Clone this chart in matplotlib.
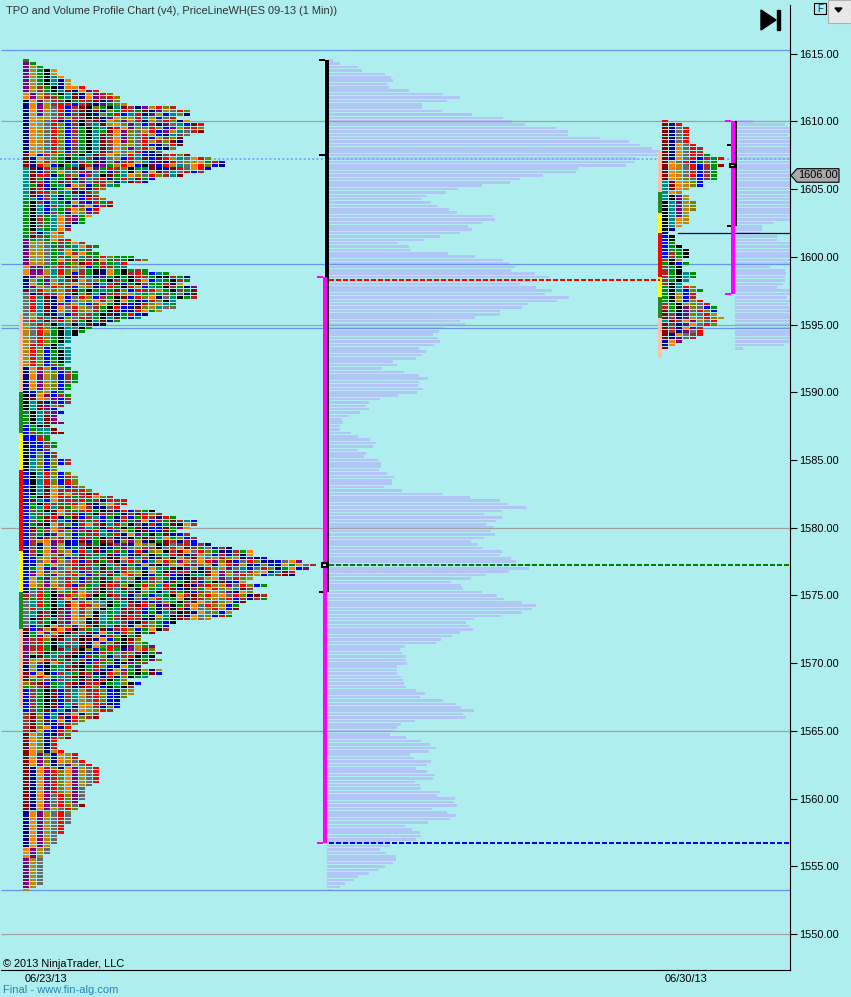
import numpy as np
import matplotlib
matplotlib.use('Agg')
import matplotlib.pyplot as plt

W, H = 851, 997
BG = '#AFEEEE'

# letter -> TPO colour
palette = {'p': '#800080', 'g': '#B8860B', 'G': '#008F00', 'k': '#000000', 'o': '#FF8000',
           't': '#008B8B', 'n': '#000080', 'r': '#FF0000', 'b': '#0000FF', 'B': '#A52A2A',
           'm': '#8B0000', 'y': '#696969', 'l': '#808000'}

# first profile, top row is 1614.50, one row per 0.25
left_top = 1614.5
left_counts = [1,2,3,5,5,6,7,7,9,11, 13,14,14,15,22,24,24,22,24,26, 26,26,24,23,23,23,22,20,24,27,
               29,29,27,26,23,19,18,14,12,11, 11,12,13,13,11,11,10,9,9,7, 7,6,6,7,
               9,11,10,11,16,18,15,15,18,21, 24,24,23,25,25,25,25,22,22,22, 20,18,17,14,12,10,9,8,7,7,
               6,7,7,7,7,7,6,7,8,8, 8,8,7,7,6,7,7,7,6,5, 6,5,5,6,4,5,6,4,4,5, 5,4,5,5,7,7,5,5,
               7,8,8,8,9,10,11,13,15,15, 14,19,20,22,25,25,24,22,24,25, 25,27,30,33,33,35,40,42,41,39,
               39,33,32,35,33,33,35,35,32,31, 31,30,30,27,22,21,21,19,17,17, 18,19,19,20,19,20,18,17,20,20,
               18,15,17,16,16,
               16,15,14,14,14,13,11,11,9,8, 7,8,7,7,5,5,5,6,8,8, 9,10,11,11,11,11,11,10,9,9,
               9,9,8,9,8,7,7,7,7,6, 6,6,5,5,5,4,4,4,3,3, 3,3,3,3,3,3,3,2,1]

# rows 0-53
colours_a = """
G pG pgG pgGko pgGko pgGkto pgGktno pgGktno pgBGknoor pgBGktmnopr
opgBGktmnoprl opgBBGtmnopBrl nopgBBkGrBmnpl nopgBBrbBmnpGlg nopgyrbBmklGktmBnpgrlB
nopgyrbBmkmnlGrBGmnpgyrl nopgyrbBmknlGrbtrnpgbtl noggyrlrBkmnpolgrtgbyrl nogyrnbBkBmnolpgBngyrl nogyrlbBkBtmgolpybrnpytbmrB
nogyrlbBGkGtmroplyrlbpgBrlmr nogyrlbBGktGmoplygrbpgtyBmr nogyrlbBGktmBoplyrgbntBymB nogyrlbBGktmBoplyrbgBlmrB nogyrlbBGktmBoplyrgBlmnrB
nogyrlbBGktmBolgyrbnyrmB nogyrlbBGktmBolpyrgbnlrB nogyrlbBGktmBoygrbnylrl mobrlGBGktmBolyrtbnkBrlmrlrb mnoylGkGtBnpygbrtmbmrgtyorlGrB
mngrlGkbBGmnypBrgtbmnrylgoGrbrB mnrgbkGtmBnpGgrobkmbrgtyorlbnrB tmnrlGBmnopGrBlkGtmnbmryorbrBm tmbrGotyrpyGbBtkgbomBtyrbB tmrBnGBlbBtkmGtolyrlB
tmGbtGmnBtBrnGr tmrbGmBtpyrBlb tGmbGtnolbGB tmrbnGopBnrl tmrBlGtmnBl tmbBtnGtbmB GtbBtnGpbrBl GkBbtGnopbrGr GktbBtGpBobrm
GktbtGBolbr GktbBGnolpB GkBGtoBpGo GkBGtoBpG GkBGtoBn GkBGtob GktGtoB GBntoB GmBGoo
pGyGoBr
"""
# rows 54-77
colours_b = """
pggyGBGoB pggyGBGtoBG pggyGBoGtB pggyGtoBoGG pggyGBGotBGrlGGG pggyGoBrGBmoGBGkBlG pggyGBGlmrGBGtr oppGyrBlgbGrBGt
oppgtrlgBGknoGkGBG oppgtrlbBGknoGkBrGbtGk npgBtlkmBtnpGkGkrBGkkBG ngGpgtBmoylGkBGkrobtGkBG noGpgBloyrntBmbGkBGGr npgyrlBbglnprGkrgbtGkBG
myrglgBmGkGtGmlbrBrgGkBG ynmrBgBklmtnBrlgtGlGBG yrtmnobyrlbBGkmbrlonytkGB yrtmnobygloBgkoGnbrlktB yrtmnpBgtbBoGkmbnrlgtGyB
yrtmnoyrgyBGkrbnmlgtyyG yrtmnoyrlgBGkmbnroGgyk ygtmnybrlBGkmnGrbnlygG ygrtmnlyrBGktmGbtnoyrk yrtmyrlBGktmnGbtnrBG
"""
# rows 78-121
colours_c = """
gyrlktyktmnk gyrlGktykG gyrgGktkG gyrlGktk gyrlGkt gyrlGkt grrlkt grlbktt grlbGkt grlbGkt
grlbGkt grlbGkt grlbBG norgbBG nopglbBG nopglbBG nopglbBG nopglbBG nopglbG nopglbG
nblgbG knopbBG kmogpbB ktmnpbB ktmplB ktmpb GktBpb Gktmp Gktmp Gktmmp
bGkm bGttm bBGtmm bbBG bbrG kbbBG kbbBG kbbB kblbB kblbB
ktlblbB ktlblbB ktlbl ktlbl
"""
# rows 122-186
colours_d = """
bktrlbl bktrlbrl bktrlbrl bktrlbrl bktmolbBl bktmoBrBrl bktmoBoBrmr bGkmorBGBrolBr bmtboBrBrGBnrBr bGkrBGBrgmnloBr
bGtrtBGgoBnnyr bBGkmoBGBrGkmnr bGBtmoBrbGkrBGnBmrlB
btGmrnGmbBtbGnBbGrBnrGkm bBGmBtbkBGrbtnrGpo bGmkoBlbroBmtrlkBnr bmGpoBnbptGnrGkGmnb bmGBoBlpBmrtbpgGkmb
bBGnpolbGBrtGrnopGkGmn bBnrlBgbrBGkBnpkGmBtoGl bBgopBnbmnGmBnlpgnkGmBnB bBnopgnbBmGkmBpnolgkmyBr bBnopgbGBkmnbGpylrBkyrgmBGy
nBGoplgbrtmnGBGbrnlgkBmoyrlGn bBnolpgtmBGtmbtnmlkGtrmnpgybr nblgrlbBmGtBkmoptrnmlkgBmoygrlgnp nbyopgyrbBmGBkyrlbtgrlpgyorplmbyrln bnoGoyBrmBGktBnGbgmkpgorplgnorpgnbl
nGobpygBrBtmGyrlGbotGmkpgnrlgpytbyrl bpopgyrlbBGmBnrlgkoGkprBnkmoplpyrgobtmrl bpoGpgyrlbBtmGorlkbGrbnkGtmopgyrlgbtBmnpy boGpgyrlbBGmGoylkbrlGbnkmBgopyrlgbtnmopy
bolpgyrlbBGkmBGykGBlbmGkrbGkmnbgyptlrm bolpgyrbBGtmrBlkGrltrGkmnBrlgpyrlbGmn nGrGBoyrlGBkBtmykoGtrmbkBGorlgtmBon nyrGklGroyBkBtGmnlGktrGmbBloypnolgo
ByrGkprloBkGmBtnyGbtGkoBmlrgoyrlnm BGrGkBoplnGktBmnybgrtGokmBlgyrbBn ytrGktmoBgytkGtmnrbplGkBmoyrlgbmB ytrGktmorBgykGtBmrlnpkGBoyrlgbG
yrtGkmpoBgykGtmBrbGnBkrnoylrgbmk ytmBkBpoBgkyGtBmrbGntBkmnoylbgrG ytmBkBpoBgktGBmrBGnotkmnoylbrG ykmGtBpogkmtGBmrBnklGkmBoygrl ytBGkBpogkmtGtBnkrlGbkmoylrbk
ybGkoBlpgrkGtmBnorlGbkmyGbr mbpgmorkBGtmnBrlbGokBr kGopgrkBtmnoGbrlkGmnp kGpgrkBtmnobrlkGmn
pBrlkmtBkmnobGkmlBoG pBrGktBtmnoblmkrlG pBrGktBtmnolrBkpgG pBrGkmtBklbGrGnpgrl
pgrkGtBmkbnrGyBlpkG pkmGtBmkbrGlnyBrkGk pgorBGmtBnbrGnlkmGpl mgBkoBtmkbrGlnkpGBp
ngbkGtBmkGrlbnoGpl ngbkGtmBkGrbnopGkg mbokbBtGmBnkrlBGkG moroGtBmkBGbrnlkGtbG
mGlBbBtGmBnrkGlbGB lBmbGtBmnBrkGtlkbGB GlBmGtBnmrlbkGkB bBGkmbBtgBrlbnlg
"""
# rows 187-245
colours_e = """
bBGkmbBtgBrlbnlg bBGkmbBtgBrlbnl bBGkmbBtgyrlbn bBGkmbtBgorBn bBGkmbtnogBnl bBGmbtnBoglrB BmlbtnBonlB BmlbtBnrl Bmlmbonrl BmlbnrBl
Bmlobnr BmobnrlB molbnrl molnrl molnr molnr molnr molngr moplnogr moplnogr
moplnogyr mopgnypgyr mnorlnopgyr mnoprlopgyr mnoprlopgyr mnoprlopgyr mnoprlopgyr mnoprlopgyr mnoprlopyr mnoprlopy
mnopyrlpy mnopyrlpy mnopyrlpy mnopyrly mnopgyrly nopgyrly nopgyry nopgyry nopgyry nopgyry
nopgyr nopgyr nopgyr nopgy nopgy nopgy opgy opgy opgy pgy
pgy pgy pgy pgy pgy pgy pgy pgy gy y
"""
left_colours = (colours_a + colours_b + colours_c + colours_d + colours_e).split()

left_volume = [6,13,31,35,58,64,66,60,62,82, 116,133,120,95,95,115,145,176,185,198, 229,241,241,273,302,313,325,333,333,310,
               307,299,251,249,216,193,183,155,131,119, 99,95,104,111,122,130,166,168,155,141, 145,133,113,97,71,82,83,121,148,176,
               182,188,184,208,222,206,193,209,225,218, 242,230,201,195,173,173,148,133,138,118, 112,106,111,113,107,92,99,95,89,66,
               70,55,77,92,101,92,91,96,90,71, 53,42,39,42,33,22,15,16,13,13, 24,31,43,49,46,31,39,37,51,54,
               54,52,60,67,65,65,57,75,115,143, 173,181,199,175,157,175,169,159,167,164, 168,157,144,151,156,175,173,184,189,208,
               202,182,159,144,124,134,136,155,170,177, 195,209,205,195,174,147,139,142,146,133, 125,114,109,78,73,75,79,79,80,70,
               70,70,74,76,77,79,89,98,93,116, 129,134,147,136,139,88,74,70,69,63, 79,94,103,109,102,83,87,104,100,89,
               100,108,106,88,93,94,113,110,128,127, 130,105,120,129,123,101,78,85,93,94, 89,63,63,53,59,69,69,66,58,51,
               42,31,27,18,13,5]

# second (developing) profile, top row is 1610.00
right_top = 1610.0
right_counts = [1,3,4,4,4,4,4,5,6,6, 7,9,8,9,8,8,8,8,6,6, 4,3,4,4,5,5,5,4,4,4,
                4,3,2,1,2,2,2,3,4,4, 4,3,4,3,3,5,5,4,3,5, 6,5,5,6,7,8,8,8,9,8,
                8,6,6,6,5,3,2,1]
right_colours = """
r mnr mnyr mnyr mnyr mnyr mnyr mnoyr mnoyrB mnoyrB
mnoyrBG mnoyrbBGr moyrbGlGr mogyrbBG mogyrbBG mogyrbBG mogyrbBG moglybBG tmoglb tmoglb
tmog tog tkpg tkpg ktpgl ktpgl ktpgl ktpg ktpg ktog
ktog kto kn n bk bk bG bGk bGGk bBGk
bBGk Bkg Gkb BGk BGk BGktG BGktG BGkt Bkt Gktrl
GktblG Gkgbr GkgbB Gkgblr BGkglyr BGkplybG mGkpyrlb mBnplyrg mBnpgyrlg tmBopgyrl
mBnpoyrl mBnopBr mBnpyr mnoyBr mnpyB nop no m
""".split()
right_volume = [18,50,55,55,53,55,55,55,55,55, 55,55,55,55,55,55,55,55,55,55, 55,55,55,55,55,55,55,55,55,55,
                39,27,27,25,42,42,55,55,55,55, 55,55,55,35,50,51,50,50,48,42, 55,55,52,55,53,54,55,54,55,55,
                55,55,55,55,55,54,49,8]

# right hand axis
price_ticks = [1550,1555,1560,1565,1570,1575,1580,1585,1590,1595,1600,1605,1610,1615]
last_price = 1606.0

# horizontal levels
gray_levels = [1610.0, 1595.0, 1580.0, 1565.0, 1550.0]
blue_levels = [1615.25, 1599.5, 1594.75, 1553.25]
dotted_level = 1607.25
poc_red = 1598.25
poc_green = 1577.25
poc_blue = 1556.75
navy_level = 1601.75

# IB / range brackets: top, bottom, tick prices
left_black = (1614.5, 1575.25, [1614.5, 1607.5, 1575.25])
left_magenta = (1598.5, 1556.75, [1598.5, 1556.75])
right_black = (1610.0, 1602.25, [1608.25, 1602.25])
right_magenta = (1610.0, 1597.25, [1610.0, 1597.25])

# side strips: boundaries and colours
strip_cols = ['#FFC0A8', '#228B22', '#FFFF00', '#FF0000', '#FFFF00', '#228B22', '#FFC0A8']
left_strip = [1595.75, 1590.0, 1587.0, 1584.25, 1578.25, 1575.25, 1572.5, 1566.75]
right_strip = [1607.75, 1604.75, 1603.25, 1601.75, 1598.5, 1597.0, 1595.5, 1592.5]


def draw_tpo(ax, top, counts, colours, x0):
    ys, xs, cs = [], [], []
    for i, n in enumerate(counts):
        row = colours[i % len(colours)]
        for k in range(n):
            ys.append(top - 0.25 * i)
            xs.append(x0 + 7 * k)
            cs.append(palette[row[k % len(row)]])
    ax.barh(ys, [6] * len(ys), left=xs, height=0.18, color=cs, linewidth=0,
            antialiased=False, zorder=2)


def draw_volume(ax, top, widths, x0):
    ys = top - 0.25 * np.arange(len(widths))
    ax.barh(ys, widths, left=x0, height=0.19, color='#B2C6F6', linewidth=0,
            antialiased=False, zorder=1)


def draw_strip(ax, x0, edges):
    for a, b, c in zip(edges[:-1], edges[1:], strip_cols):
        ax.barh((a + b) / 2, 4, left=x0, height=a - b, color=c, linewidth=0, zorder=2)


def bracket(ax, x, top, bottom, ticks, colour, ticklen, z):
    px = 72.0 / 100
    ax.plot([x, x], [top, bottom], color=colour, lw=4 * px, solid_capstyle='butt', zorder=z)
    for t in ticks:
        ax.plot([x - 2 - ticklen, x - 2], [t, t], color=colour, lw=2 * px,
                solid_capstyle='butt', zorder=z)


fig = plt.figure(figsize=(W / 100, H / 100), dpi=100, facecolor=BG)
plt.rcParams['font.family'] = ['Liberation Sans', 'DejaVu Sans']
ax = fig.add_axes([0, 27 / H, 790 / W, 970 / H], facecolor=BG)
ax.set_xlim(0, 790)
ax.set_ylim(1547.36, 1618.95)

draw_volume(ax, left_top, left_volume, 327)
draw_volume(ax, right_top, right_volume, 735)
draw_tpo(ax, left_top, left_counts, left_colours, 23)
draw_tpo(ax, right_top, right_counts, right_colours, 662)
draw_strip(ax, 19, left_strip)
draw_strip(ax, 658, right_strip)

# levels
ax.hlines(gray_levels, 1, 790, color='#A0A0A0', lw=0.9, zorder=1.5)
ax.hlines(blue_levels, 1, 790, color='#6495ED', lw=0.9, zorder=1.5)
ax.plot([0, 790], [dotted_level, dotted_level], color='#7FA8F5', lw=1.4,
        ls=(0, (1, 1.2)), zorder=1.5)
dash = (0, (2.5, 1))
ax.plot([329, 660], [poc_red, poc_red], color='#FF0000', lw=1.44, ls=dash, zorder=3)
ax.plot([329, 790], [poc_green, poc_green], color='#008000', lw=1.44, ls=dash, zorder=3)
ax.plot([329, 790], [poc_blue, poc_blue], color='#0000FF', lw=1.44, ls=dash, zorder=3)
ax.plot([678, 790], [navy_level, navy_level], color='#000080', lw=0.9, zorder=3)

# brackets, magenta over black
bracket(ax, 327, left_black[0], left_black[1], left_black[2], 'black', 6, 4)
bracket(ax, 325, left_magenta[0], left_magenta[1], left_magenta[2], '#FF00FF', 6, 5)
bracket(ax, 735, right_black[0], right_black[1], right_black[2], 'black', 6, 4)
bracket(ax, 733, right_magenta[0], right_magenta[1], right_magenta[2], '#FF00FF', 6, 5)
ax.barh(poc_green, 5, left=322, height=0.24, facecolor=BG, edgecolor='black', lw=1.5, zorder=6)
ax.barh(1606.75, 5, left=730, height=0.24, facecolor=BG, edgecolor='black', lw=1.5, zorder=6)

# axis
for s in ['top', 'left']:
    ax.spines[s].set_visible(False)
ax.spines['right'].set_bounds(1547.36, 1618.6)
ax.spines['bottom'].set_bounds(1, 790)
ax.xaxis.set_visible(False)
ax.yaxis.tick_right()
ax.set_yticks(price_ticks)
ax.set_yticklabels(['%.2f' % p for p in price_ticks], fontsize=7.9, color='black')
ax.tick_params(axis='y', length=5, width=0.8, pad=1.5)

# last price flag
ax.fill([791, 797, 839, 839, 797], [last_price, last_price + 0.5, last_price + 0.5,
                                    last_price - 0.5, last_price - 0.5],
        facecolor='#A9A9A9', edgecolor='black', lw=0.8, clip_on=False, zorder=7)
ax.text(818, last_price, '%.2f' % last_price, fontsize=7.9, ha='center', va='center',
        clip_on=False, zorder=8)

# texts, positions in pixels
def ftext(x, y, s, **kw):
    fig.text(x / W, 1 - y / H, s, va='center', **kw)

ftext(6, 11, 'TPO and Volume Profile Chart (v4), PriceLineWH(ES 09-13 (1 Min))', fontsize=7.9, color='#303030')
ftext(3, 964, '\u00a9 2013 NinjaTrader, LLC', fontsize=7.9, color='black')
ftext(25, 979, '06/23/13', fontsize=7.9, color='black')
ftext(665, 979, '06/30/13', fontsize=7.9, color='black')
ftext(3, 990, 'Final - www.fin-alg.com', fontsize=8, color='#2B83BA')

# play-to-end button and corner controls
ov = fig.add_axes([0, 0, 1, 1], facecolor='none')
ov.set_xlim(0, W)
ov.set_ylim(H, 0)
ov.axis('off')
ov.fill([761, 776, 761], [10, 20, 30], color='black')
ov.fill([777, 780, 780, 777], [10, 10, 30, 30], color='black')
ov.fill([814, 826, 826, 814], [3, 3, 14.5, 14.5], facecolor=BG, edgecolor='black', lw=0.8)
ov.text(820, 9, 'F', fontsize=7, ha='center', va='center', color='#003070')
ov.fill([828, 851, 851, 828], [0, 0, 23, 23], facecolor='#E8E8E8', edgecolor='#B0B0B0', lw=0.8)
ov.fill([835, 842, 838.5], [8, 8, 12], color='black')

fig.savefig('out.png', dpi=100, facecolor=BG)
